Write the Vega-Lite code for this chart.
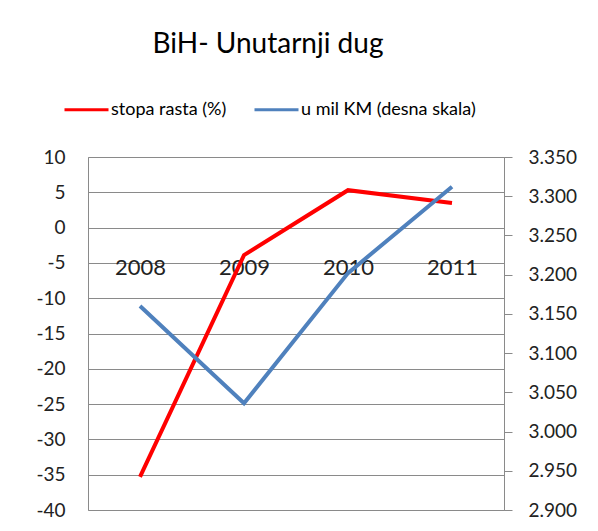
{
  "$schema": "https://vega.github.io/schema/vega-lite/v6.json",
  "width": 416,
  "height": 353,
  "autosize": {"type": "none"},
  "padding": {"left": 88, "top": 157, "right": 94, "bottom": 21},
  "background": "white",
  "title": {
    "text": "BiH- Unutarnji dug",
    "font": "Lato",
    "fontSize": 28,
    "fontWeight": "normal",
    "color": "#000000",
    "anchor": "middle",
    "frame": "group",
    "dx": -28,
    "offset": 27
  },
  "data": {
    "values": [
      {"year": "2008", "stopa": -35.3, "mil": 3160},
      {"year": "2009", "stopa": -3.9, "mil": 3036},
      {"year": "2010", "stopa": 5.3, "mil": 3202},
      {"year": "2011", "stopa": 3.5, "mil": 3312}
    ]
  },
  "encoding": {
    "x": {
      "field": "year",
      "type": "nominal",
      "sort": null,
      "axis": {
        "title": null,
        "orient": "bottom",
        "offset": -282,
        "domain": false,
        "ticks": false,
        "grid": false,
        "labelAngle": 0,
        "labelPadding": 29,
        "labelFont": "Lato",
        "labelFontSize": 22,
        "labelColor": "#222222"
      }
    }
  },
  "layer": [
    {
      "mark": {"type": "line", "strokeWidth": 4},
      "encoding": {
        "y": {
          "field": "stopa",
          "type": "quantitative",
          "scale": {"domain": [-40, 10], "nice": false, "zero": false},
          "axis": {
            "title": null,
            "orient": "left",
            "values": [-40, -35, -30, -25, -20, -15, -10, -5, 0, 5, 10],
            "labelExpr": "'' + datum.value",
            "grid": true,
            "gridColor": "#8a8a8a",
            "gridWidth": 1,
            "domain": false,
            "ticks": false,
            "labelPadding": 23,
            "labelFont": "Lato",
            "labelFontSize": 19,
            "labelColor": "#222222"
          }
        },
        "color": {
          "datum": "stopa rasta (%)",
          "scale": {
            "domain": ["stopa rasta (%)", "u mil KM (desna skala)"],
            "range": ["#FF0000", "#4F81BD"]
          },
          "legend": {
            "orient": "none",
            "legendX": -25,
            "legendY": -71,
            "direction": "horizontal",
            "title": null,
            "symbolType": "stroke",
            "symbolSize": 1936,
            "symbolStrokeWidth": 3,
            "labelFont": "Lato",
            "labelFontSize": 18,
            "labelColor": "#000000",
            "labelOffset": 1,
            "labelLimit": 400,
            "columnPadding": 21
          }
        }
      }
    },
    {
      "mark": {"type": "line", "strokeWidth": 4},
      "encoding": {
        "y": {
          "field": "mil",
          "type": "quantitative",
          "scale": {"domain": [2900, 3350], "nice": false, "zero": false},
          "axis": {
            "title": null,
            "orient": "right",
            "values": [2900, 2950, 3000, 3050, 3100, 3150, 3200, 3250, 3300, 3350],
            "labelExpr": "replace(format(datum.value, ','), ',', '.')",
            "grid": false,
            "domain": true,
            "domainColor": "#8a8a8a",
            "ticks": true,
            "tickColor": "#8a8a8a",
            "tickSize": 8,
            "labelPadding": 16,
            "labelFont": "Lato",
            "labelFontSize": 19,
            "labelColor": "#222222"
          }
        },
        "color": {"datum": "u mil KM (desna skala)"}
      }
    }
  ],
  "resolve": {"scale": {"y": "independent"}},
  "config": {
    "view": {"stroke": "#8a8a8a", "strokeWidth": 1}
  }
}
